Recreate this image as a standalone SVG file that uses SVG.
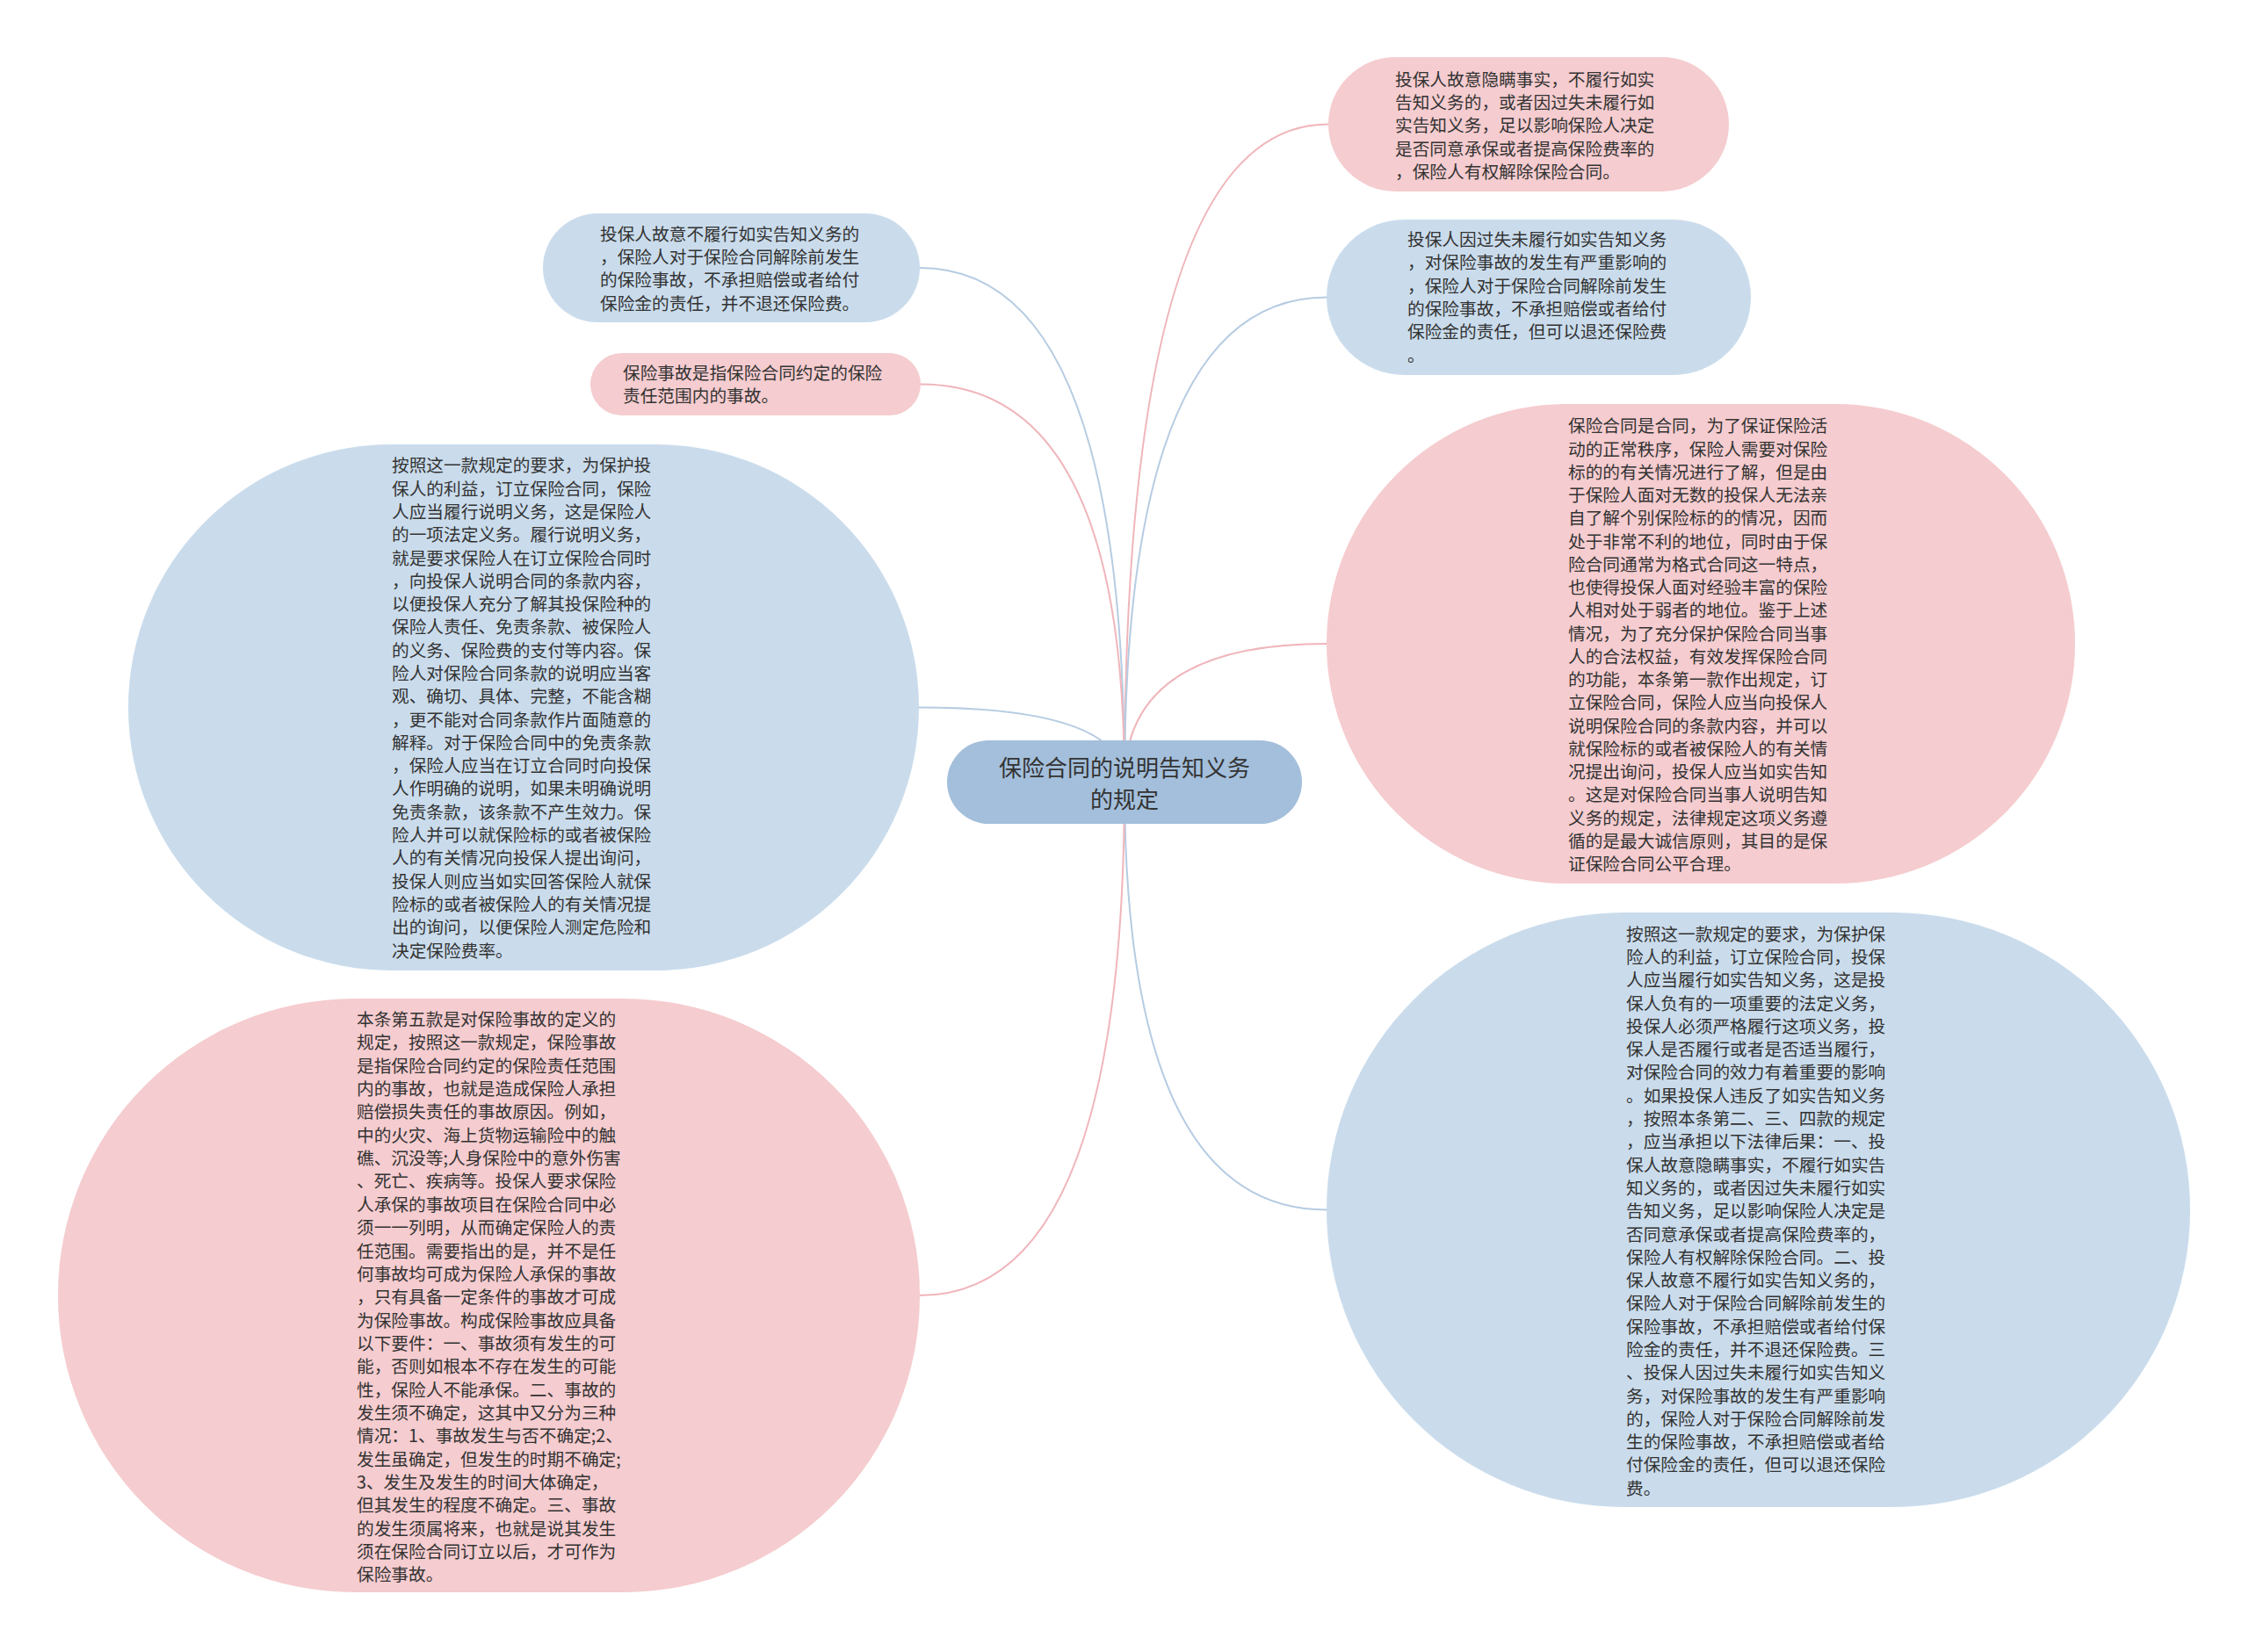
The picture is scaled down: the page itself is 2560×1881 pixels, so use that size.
<svg xmlns="http://www.w3.org/2000/svg" width="2560" height="1881" viewBox="0 0 2560 1881">
<style>
.bg{fill:#ffffff}
.pink{fill:#f5cccf}
.blue{fill:#cadcec}
.root{fill:#a3bfdb}
.cp{fill:none;stroke:#f0b5bb;stroke-width:2}
.cb{fill:none;stroke:#b6cce2;stroke-width:2}
.t{font-family:"Noto Sans CJK SC","Noto Sans",sans-serif;font-size:19.7px;fill:#333333}
.rt{font-family:"Noto Sans CJK SC","Noto Sans",sans-serif;font-size:26px;fill:#333333;text-anchor:middle}
</style>
<rect class="bg" x="0" y="0" width="2560" height="1881"/>
<g id="connectors">
<path class="cp" d="M1280 891 Q1280 141.5 1512 141.5"/>
<path class="cb" d="M1280 891 Q1280 338.5 1510 338.5"/>
<path class="cp" d="M1280 891 Q1280 733 1510 733"/>
<path class="cb" d="M1280 891 Q1280 1377.5 1510 1377.5"/>
<path class="cb" d="M1280 891 Q1280 305 1047 305"/>
<path class="cp" d="M1280 891 Q1280 437.5 1048 437.5"/>
<path class="cb" d="M1280 891 Q1280 805.5 1046 805.5"/>
<path class="cp" d="M1280 891 Q1280 1475 1047 1475"/>
</g>
<g id="root">
<rect class="root" x="1078" y="843" width="404" height="95" rx="47.5"/>
<text class="rt" x="1280" y="883.5">保险合同的说明告知义务</text>
<text class="rt" x="1280" y="920">的规定</text>
</g>
<g id="node-r1">
<rect class="pink" x="1512" y="65" width="456" height="153" rx="76.5"/>
<text class="t" x="1588" y="97.7"><tspan x="1588">投保人故意隐瞒事实，不履行如实</tspan><tspan x="1588" dy="26.3">告知义务的，或者因过失未履行如</tspan><tspan x="1588" dy="26.3">实告知义务，足以影响保险人决定</tspan><tspan x="1588" dy="26.3">是否同意承保或者提高保险费率的</tspan><tspan x="1588" dy="26.3">，保险人有权解除保险合同。</tspan></text>
</g>
<g id="node-r2">
<rect class="blue" x="1510" y="250" width="483" height="177" rx="88.5"/>
<text class="t" x="1602" y="280"><tspan x="1602">投保人因过失未履行如实告知义务</tspan><tspan x="1602" dy="26.3">，对保险事故的发生有严重影响的</tspan><tspan x="1602" dy="26.3">，保险人对于保险合同解除前发生</tspan><tspan x="1602" dy="26.3">的保险事故，不承担赔偿或者给付</tspan><tspan x="1602" dy="26.3">保险金的责任，但可以退还保险费</tspan><tspan x="1602" dy="26.3">。</tspan></text>
</g>
<g id="node-r3">
<rect class="pink" x="1510" y="460" width="852" height="546" rx="273"/>
<text class="t" x="1785" y="492.3"><tspan x="1785">保险合同是合同，为了保证保险活</tspan><tspan x="1785" dy="26.25">动的正常秩序，保险人需要对保险</tspan><tspan x="1785" dy="26.25">标的的有关情况进行了解，但是由</tspan><tspan x="1785" dy="26.25">于保险人面对无数的投保人无法亲</tspan><tspan x="1785" dy="26.25">自了解个别保险标的的情况，因而</tspan><tspan x="1785" dy="26.25">处于非常不利的地位，同时由于保</tspan><tspan x="1785" dy="26.25">险合同通常为格式合同这一特点，</tspan><tspan x="1785" dy="26.25">也使得投保人面对经验丰富的保险</tspan><tspan x="1785" dy="26.25">人相对处于弱者的地位。鉴于上述</tspan><tspan x="1785" dy="26.25">情况，为了充分保护保险合同当事</tspan><tspan x="1785" dy="26.25">人的合法权益，有效发挥保险合同</tspan><tspan x="1785" dy="26.25">的功能，本条第一款作出规定，订</tspan><tspan x="1785" dy="26.25">立保险合同，保险人应当向投保人</tspan><tspan x="1785" dy="26.25">说明保险合同的条款内容，并可以</tspan><tspan x="1785" dy="26.25">就保险标的或者被保险人的有关情</tspan><tspan x="1785" dy="26.25">况提出询问，投保人应当如实告知</tspan><tspan x="1785" dy="26.25">。这是对保险合同当事人说明告知</tspan><tspan x="1785" dy="26.25">义务的规定，法律规定这项义务遵</tspan><tspan x="1785" dy="26.25">循的是最大诚信原则，其目的是保</tspan><tspan x="1785" dy="26.25">证保险合同公平合理。</tspan></text>
</g>
<g id="node-r4">
<rect class="blue" x="1510" y="1039" width="983" height="677" rx="338.5"/>
<text class="t" x="1851" y="1070.6"><tspan x="1851">按照这一款规定的要求，为保护保</tspan><tspan x="1851" dy="26.3">险人的利益，订立保险合同，投保</tspan><tspan x="1851" dy="26.3">人应当履行如实告知义务，这是投</tspan><tspan x="1851" dy="26.3">保人负有的一项重要的法定义务，</tspan><tspan x="1851" dy="26.3">投保人必须严格履行这项义务，投</tspan><tspan x="1851" dy="26.3">保人是否履行或者是否适当履行，</tspan><tspan x="1851" dy="26.3">对保险合同的效力有着重要的影响</tspan><tspan x="1851" dy="26.3">。如果投保人违反了如实告知义务</tspan><tspan x="1851" dy="26.3">，按照本条第二、三、四款的规定</tspan><tspan x="1851" dy="26.3">，应当承担以下法律后果：一、投</tspan><tspan x="1851" dy="26.3">保人故意隐瞒事实，不履行如实告</tspan><tspan x="1851" dy="26.3">知义务的，或者因过失未履行如实</tspan><tspan x="1851" dy="26.3">告知义务，足以影响保险人决定是</tspan><tspan x="1851" dy="26.3">否同意承保或者提高保险费率的，</tspan><tspan x="1851" dy="26.3">保险人有权解除保险合同。二、投</tspan><tspan x="1851" dy="26.3">保人故意不履行如实告知义务的，</tspan><tspan x="1851" dy="26.3">保险人对于保险合同解除前发生的</tspan><tspan x="1851" dy="26.3">保险事故，不承担赔偿或者给付保</tspan><tspan x="1851" dy="26.3">险金的责任，并不退还保险费。三</tspan><tspan x="1851" dy="26.3">、投保人因过失未履行如实告知义</tspan><tspan x="1851" dy="26.3">务，对保险事故的发生有严重影响</tspan><tspan x="1851" dy="26.3">的，保险人对于保险合同解除前发</tspan><tspan x="1851" dy="26.3">生的保险事故，不承担赔偿或者给</tspan><tspan x="1851" dy="26.3">付保险金的责任，但可以退还保险</tspan><tspan x="1851" dy="26.3">费。</tspan></text>
</g>
<g id="node-l1">
<rect class="blue" x="618" y="243" width="429" height="124" rx="62"/>
<text class="t" x="683" y="273.8"><tspan x="683">投保人故意不履行如实告知义务的</tspan><tspan x="683" dy="26.3">，保险人对于保险合同解除前发生</tspan><tspan x="683" dy="26.3">的保险事故，不承担赔偿或者给付</tspan><tspan x="683" dy="26.3">保险金的责任，并不退还保险费。</tspan></text>
</g>
<g id="node-l2">
<rect class="pink" x="672" y="402" width="376" height="71" rx="35.5"/>
<text class="t" x="709" y="431.8"><tspan x="709">保险事故是指保险合同约定的保险</tspan><tspan x="709" dy="26.3">责任范围内的事故。</tspan></text>
</g>
<g id="node-l3">
<rect class="blue" x="146" y="506" width="900" height="599" rx="299.5"/>
<text class="t" x="446" y="537.3"><tspan x="446">按照这一款规定的要求，为保护投</tspan><tspan x="446" dy="26.3">保人的利益，订立保险合同，保险</tspan><tspan x="446" dy="26.3">人应当履行说明义务，这是保险人</tspan><tspan x="446" dy="26.3">的一项法定义务。履行说明义务，</tspan><tspan x="446" dy="26.3">就是要求保险人在订立保险合同时</tspan><tspan x="446" dy="26.3">，向投保人说明合同的条款内容，</tspan><tspan x="446" dy="26.3">以便投保人充分了解其投保险种的</tspan><tspan x="446" dy="26.3">保险人责任、免责条款、被保险人</tspan><tspan x="446" dy="26.3">的义务、保险费的支付等内容。保</tspan><tspan x="446" dy="26.3">险人对保险合同条款的说明应当客</tspan><tspan x="446" dy="26.3">观、确切、具体、完整，不能含糊</tspan><tspan x="446" dy="26.3">，更不能对合同条款作片面随意的</tspan><tspan x="446" dy="26.3">解释。对于保险合同中的免责条款</tspan><tspan x="446" dy="26.3">，保险人应当在订立合同时向投保</tspan><tspan x="446" dy="26.3">人作明确的说明，如果未明确说明</tspan><tspan x="446" dy="26.3">免责条款，该条款不产生效力。保</tspan><tspan x="446" dy="26.3">险人并可以就保险标的或者被保险</tspan><tspan x="446" dy="26.3">人的有关情况向投保人提出询问，</tspan><tspan x="446" dy="26.3">投保人则应当如实回答保险人就保</tspan><tspan x="446" dy="26.3">险标的或者被保险人的有关情况提</tspan><tspan x="446" dy="26.3">出的询问，以便保险人测定危险和</tspan><tspan x="446" dy="26.3">决定保险费率。</tspan></text>
</g>
<g id="node-l4">
<rect class="pink" x="66" y="1137" width="981" height="676" rx="338"/>
<text class="t" x="406" y="1168"><tspan x="406">本条第五款是对保险事故的定义的</tspan><tspan x="406" dy="26.35">规定，按照这一款规定，保险事故</tspan><tspan x="406" dy="26.35">是指保险合同约定的保险责任范围</tspan><tspan x="406" dy="26.35">内的事故，也就是造成保险人承担</tspan><tspan x="406" dy="26.35">赔偿损失责任的事故原因。例如，</tspan><tspan x="406" dy="26.35">中的火灾、海上货物运输险中的触</tspan><tspan x="406" dy="26.35">礁、沉没等;人身保险中的意外伤害</tspan><tspan x="406" dy="26.35">、死亡、疾病等。投保人要求保险</tspan><tspan x="406" dy="26.35">人承保的事故项目在保险合同中必</tspan><tspan x="406" dy="26.35">须一一列明，从而确定保险人的责</tspan><tspan x="406" dy="26.35">任范围。需要指出的是，并不是任</tspan><tspan x="406" dy="26.35">何事故均可成为保险人承保的事故</tspan><tspan x="406" dy="26.35">，只有具备一定条件的事故才可成</tspan><tspan x="406" dy="26.35">为保险事故。构成保险事故应具备</tspan><tspan x="406" dy="26.35">以下要件：一、事故须有发生的可</tspan><tspan x="406" dy="26.35">能，否则如根本不存在发生的可能</tspan><tspan x="406" dy="26.35">性，保险人不能承保。二、事故的</tspan><tspan x="406" dy="26.35">发生须不确定，这其中又分为三种</tspan><tspan x="406" dy="26.35">情况：1、事故发生与否不确定;2、</tspan><tspan x="406" dy="26.35">发生虽确定，但发生的时期不确定;</tspan><tspan x="406" dy="26.35">3、发生及发生的时间大体确定，</tspan><tspan x="406" dy="26.35">但其发生的程度不确定。三、事故</tspan><tspan x="406" dy="26.35">的发生须属将来，也就是说其发生</tspan><tspan x="406" dy="26.35">须在保险合同订立以后，才可作为</tspan><tspan x="406" dy="26.35">保险事故。</tspan></text>
</g>
</svg>
